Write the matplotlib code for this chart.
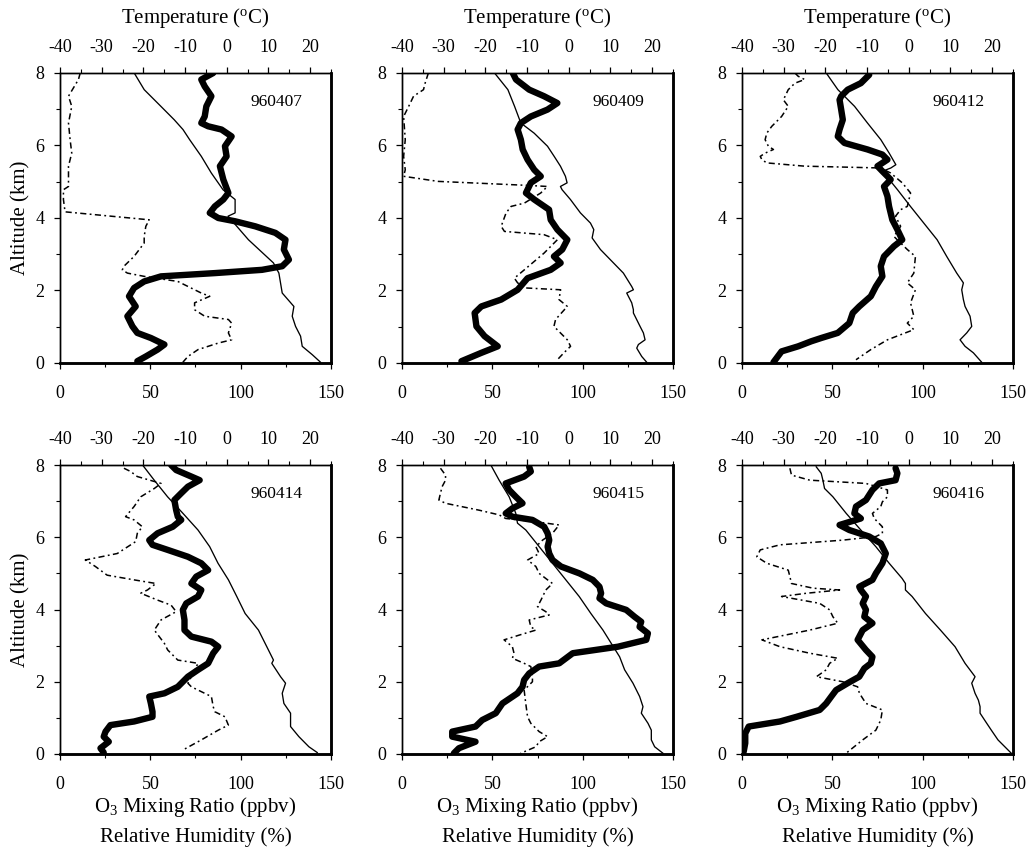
import matplotlib
matplotlib.use("Agg")
import matplotlib.pyplot as plt
from matplotlib.ticker import MultipleLocator, FixedLocator

plt.rcParams['font.family'] = ['Liberation Serif', 'DejaVu Serif']
plt.rcParams['mathtext.fontset'] = 'custom'
plt.rcParams['mathtext.rm'] = 'Liberation Serif'
plt.rcParams['axes.unicode_minus'] = False

dates = ["960407", "960409", "960412", "960414", "960415", "960416"]

# ---------------- 960407 ----------------
t1_alt = [8.0, 7.54, 7.08, 6.71, 6.44, 6.16, 5.70, 5.24, 4.78, 4.51, 4.14, 4.05, 3.40, 2.76, 2.48, 1.93, 1.56, 1.29, 1.01, 0.74, 0.46, 0.23, 0.02]
t1_val = [-22.2, -19.8, -15.8, -12.6, -10.5, -8.9, -6.1, -3.7, -0.9, 2.0, 2.0, 0.3, 5.2, 11.2, 12.5, 13.3, 16.1, 15.7, 16.5, 17.7, 18.1, 20.5, 22.5]
o1_alt = [8.0, 7.82, 7.63, 7.36, 7.08, 6.80, 6.62, 6.53, 6.44, 6.25, 5.98, 5.70, 5.43, 5.06, 4.69, 4.51, 4.32, 4.14, 4.00, 3.91, 3.77, 3.59, 3.40, 3.13, 2.85, 2.67, 2.57, 2.48, 2.39, 2.25, 2.07, 1.84, 1.56, 1.29, 1.01, 0.83, 0.69, 0.51, 0.37, 0.18, 0.05]
o1_val = [84.8, 78.2, 80.1, 83.8, 81.0, 80.1, 78.2, 82.0, 89.4, 95.0, 91.3, 92.2, 88.5, 90.4, 93.2, 90.4, 85.7, 82.9, 87.6, 96.9, 108.1, 119.2, 124.8, 123.9, 126.7, 123.0, 111.8, 85.7, 55.9, 46.6, 41.0, 38.2, 41.9, 37.3, 40.1, 42.8, 50.3, 57.8, 54.0, 47.5, 42.8]
r1_alt = [8.0, 7.82, 7.36, 7.08, 6.62, 6.16, 5.79, 5.43, 4.87, 4.78, 4.51, 4.17, 3.95, 3.77, 3.49, 3.31, 2.94, 2.67, 2.57, 2.48, 2.39, 2.25, 1.93, 1.84, 1.66, 1.47, 1.29, 1.20, 1.10, 0.83, 0.64, 0.55, 0.37, 0.18, 0.02]
r1_val = [11.2, 10.2, 4.7, 6.5, 4.7, 5.6, 6.5, 4.7, 4.7, 1.9, 1.9, 2.8, 49.4, 47.5, 46.6, 46.6, 41.0, 35.4, 34.5, 37.3, 46.6, 65.2, 78.2, 82.9, 74.5, 74.5, 80.1, 93.2, 95.0, 93.2, 95.0, 87.6, 76.4, 70.8, 68.0]

# ---------------- 960409 ----------------
t2_alt = [8.0, 7.54, 7.08, 6.62, 6.34, 5.98, 5.70, 5.43, 5.15, 4.97, 4.87, 4.78, 4.51, 4.14, 3.86, 3.68, 3.45, 3.13, 2.48, 2.11, 2.02, 1.93, 1.66, 1.47, 1.38, 1.01, 0.83, 0.64, 0.51, 0.41, 0.18, 0.02]
t2_val = [-17.8, -14.6, -13.0, -11.5, -8.3, -5.1, -3.5, -2.0, -0.8, -0.4, -2.0, -1.6, 0.4, 2.8, 5.2, 6.0, 5.6, 7.6, 13.1, 15.1, 15.5, 13.9, 15.1, 15.5, 15.5, 17.1, 17.9, 18.3, 16.7, 16.3, 17.5, 18.7]
o2_alt = [8.0, 7.82, 7.54, 7.36, 7.17, 6.99, 6.80, 6.62, 6.44, 6.16, 5.89, 5.61, 5.33, 5.15, 4.97, 4.69, 4.51, 4.23, 3.95, 3.68, 3.40, 3.13, 2.94, 2.76, 2.57, 2.34, 2.02, 1.75, 1.56, 1.38, 1.01, 0.74, 0.46, 0.28, 0.05]
o2_val = [61.3, 63.1, 70.4, 78.6, 86.0, 80.5, 71.3, 65.8, 64.0, 65.8, 66.8, 69.5, 73.2, 76.8, 71.3, 68.6, 73.2, 81.4, 82.3, 86.0, 91.5, 88.7, 84.1, 87.8, 82.3, 69.5, 64.0, 54.9, 43.9, 40.2, 41.2, 45.7, 53.0, 43.9, 32.9]
r2_alt = [8.0, 7.72, 7.54, 7.36, 7.08, 6.80, 6.16, 5.70, 5.33, 5.15, 5.01, 4.90, 4.87, 4.69, 4.41, 4.32, 4.14, 3.77, 3.63, 3.54, 3.40, 3.03, 2.57, 2.34, 2.21, 2.07, 2.02, 1.75, 1.56, 1.20, 1.01, 0.64, 0.46, 0.28, 0.09]
r2_val = [14.6, 12.8, 11.9, 6.4, 3.7, 0.9, 1.8, 0.9, 1.8, 0.9, 20.0, 69.5, 80.5, 76.8, 67.7, 60.4, 57.6, 54.9, 56.7, 78.6, 86.0, 78.6, 67.7, 62.2, 64.0, 68.6, 87.8, 86.9, 91.5, 85.0, 84.1, 91.5, 93.3, 89.6, 86.0]

# ---------------- 960412 ----------------
t3_alt = [8.0, 7.54, 7.08, 6.62, 6.16, 5.79, 5.47, 5.38, 5.29, 4.78, 4.32, 3.86, 3.40, 2.94, 2.48, 2.21, 2.02, 1.75, 1.56, 1.29, 1.01, 0.83, 0.64, 0.46, 0.28, 0.02]
t3_val = [-19.8, -17.0, -13.0, -9.9, -6.7, -4.7, -3.1, -4.3, -6.3, -2.7, 0.4, 3.6, 6.8, 9.1, 11.5, 13.1, 12.7, 13.1, 13.5, 14.7, 15.1, 13.9, 12.3, 13.5, 15.5, 17.5]
o3_alt = [7.95, 7.72, 7.54, 7.36, 7.26, 6.99, 6.71, 6.44, 6.25, 6.07, 5.89, 5.75, 5.61, 5.43, 5.29, 5.06, 4.87, 4.60, 4.32, 3.95, 3.68, 3.40, 3.22, 2.94, 2.67, 2.39, 2.11, 1.84, 1.56, 1.38, 1.10, 0.83, 0.69, 0.60, 0.46, 0.32, 0.14, 0.02]
o3_val = [70.4, 65.8, 58.5, 54.9, 54.0, 54.9, 55.8, 54.0, 53.0, 56.7, 69.5, 77.7, 80.5, 75.0, 77.7, 82.3, 78.6, 80.5, 81.4, 83.2, 86.0, 88.7, 84.1, 78.6, 76.8, 77.7, 74.1, 71.3, 64.9, 61.3, 59.4, 53.0, 43.9, 38.4, 31.1, 21.9, 19.2, 17.4]
r3_alt = [8.0, 7.91, 7.82, 7.72, 7.54, 7.26, 7.08, 6.80, 6.53, 6.34, 6.16, 5.98, 5.89, 5.79, 5.70, 5.61, 5.52, 5.43, 5.38, 5.24, 4.97, 4.69, 4.32, 4.23, 4.05, 3.77, 3.49, 3.31, 3.13, 2.94, 2.48, 2.21, 2.02, 1.66, 1.29, 1.10, 0.92, 0.64, 0.37, 0.09]
r3_val = [29.3, 31.1, 34.7, 29.3, 25.6, 22.9, 25.6, 21.9, 16.5, 13.7, 12.8, 14.6, 17.4, 12.8, 10.1, 11.0, 13.7, 34.7, 76.8, 82.3, 88.7, 93.3, 91.5, 87.8, 85.0, 87.8, 84.1, 87.8, 91.5, 96.0, 95.1, 91.5, 96.0, 93.3, 95.1, 91.5, 95.1, 80.5, 71.3, 63.1]

# ---------------- 960414 ----------------
t4_alt = [8.0, 7.58, 7.12, 6.66, 6.20, 5.74, 5.28, 4.82, 4.36, 3.89, 3.43, 2.97, 2.60, 2.51, 2.14, 1.96, 1.68, 1.40, 1.13, 0.76, 0.48, 0.20, 0.04]
t4_val = [-20.2, -17.4, -14.2, -10.5, -6.9, -4.1, -2.1, 0.4, 2.4, 4.4, 7.6, 9.6, 11.2, 10.8, 12.9, 14.1, 13.3, 13.7, 15.3, 15.3, 17.3, 19.7, 21.7]
o4_alt = [8.0, 7.86, 7.68, 7.58, 7.40, 7.22, 7.03, 6.75, 6.57, 6.48, 6.29, 6.11, 5.92, 5.79, 5.65, 5.46, 5.28, 5.09, 4.91, 4.72, 4.54, 4.36, 4.17, 3.99, 3.71, 3.43, 3.25, 3.11, 2.97, 2.79, 2.51, 2.33, 2.14, 1.86, 1.68, 1.59, 1.40, 1.17, 1.03, 0.90, 0.80, 0.62, 0.48, 0.34, 0.16, 0.04]
o4_val = [61.5, 64.3, 72.7, 77.3, 70.8, 67.1, 63.3, 64.3, 65.2, 67.1, 62.4, 54.0, 49.4, 51.2, 59.6, 70.8, 78.2, 82.0, 75.4, 72.7, 78.2, 76.4, 69.9, 68.0, 68.9, 68.9, 72.7, 83.8, 87.6, 84.8, 82.0, 76.4, 70.8, 65.2, 57.8, 49.4, 50.3, 51.2, 51.2, 41.0, 27.9, 25.2, 24.2, 27.0, 22.4, 24.2]
r4_alt = [7.91, 7.82, 7.68, 7.49, 7.35, 7.12, 6.85, 6.57, 6.48, 6.29, 6.11, 5.88, 5.55, 5.37, 5.19, 4.95, 4.82, 4.72, 4.54, 4.45, 4.26, 4.12, 3.94, 3.71, 3.43, 3.06, 2.88, 2.60, 2.51, 2.33, 2.14, 1.96, 1.86, 1.59, 1.31, 1.17, 1.03, 0.80, 0.66, 0.39, 0.11]
r4_val = [35.4, 39.1, 42.8, 55.9, 52.2, 44.7, 41.0, 36.3, 41.0, 45.6, 42.8, 41.9, 31.7, 14.0, 19.6, 26.1, 41.0, 53.1, 48.4, 44.7, 54.0, 61.5, 64.3, 55.9, 52.2, 57.8, 59.6, 65.2, 76.4, 74.5, 72.7, 70.8, 72.7, 83.8, 84.8, 85.7, 91.3, 93.2, 87.6, 78.2, 68.0]

# ---------------- 960415 ----------------
t5_alt = [8.0, 7.58, 7.12, 6.66, 6.39, 6.20, 5.74, 5.28, 4.82, 4.36, 3.89, 3.43, 3.06, 2.69, 2.33, 1.96, 1.59, 1.31, 1.13, 0.85, 0.66, 0.39, 0.20, 0.02]
t5_val = [-18.7, -16.7, -14.3, -12.7, -12.3, -10.3, -7.1, -3.9, -0.7, 2.5, 5.3, 8.2, 10.2, 12.2, 13.4, 15.4, 17.0, 17.8, 17.4, 19.0, 19.8, 19.8, 20.6, 22.6]
o5_alt = [7.95, 7.82, 7.68, 7.49, 7.31, 7.12, 6.94, 6.80, 6.66, 6.57, 6.48, 6.29, 6.11, 5.92, 5.74, 5.55, 5.37, 5.19, 5.00, 4.82, 4.63, 4.45, 4.31, 4.17, 3.99, 3.80, 3.66, 3.52, 3.34, 3.16, 2.97, 2.79, 2.51, 2.42, 2.23, 2.05, 1.86, 1.68, 1.40, 1.13, 0.94, 0.76, 0.62, 0.48, 0.34, 0.16, 0.02]
o5_val = [70.4, 71.3, 67.6, 57.4, 59.3, 63.0, 66.7, 61.1, 57.4, 61.1, 72.2, 78.7, 80.6, 81.5, 80.6, 81.5, 83.3, 88.0, 98.2, 105.6, 109.3, 110.2, 109.3, 113.0, 124.1, 128.7, 132.4, 131.5, 136.1, 135.2, 119.5, 94.5, 87.0, 75.9, 70.4, 67.6, 66.7, 63.9, 55.6, 51.9, 44.4, 40.7, 27.8, 27.8, 40.7, 31.5, 28.7]
r5_alt = [7.91, 7.72, 7.58, 7.40, 7.22, 7.03, 6.94, 6.75, 6.62, 6.52, 6.43, 6.34, 6.11, 5.92, 5.74, 5.55, 5.37, 5.19, 5.00, 4.82, 4.72, 4.54, 4.26, 4.08, 3.94, 3.85, 3.71, 3.52, 3.43, 3.29, 3.16, 2.97, 2.79, 2.65, 2.51, 2.42, 2.14, 2.00, 1.77, 1.40, 1.03, 0.85, 0.62, 0.48, 0.34, 0.20, 0.02]
r5_val = [21.3, 24.1, 24.1, 22.2, 21.3, 20.4, 24.1, 42.6, 53.7, 57.4, 74.1, 87.0, 83.3, 77.8, 74.1, 75.9, 69.5, 74.1, 75.9, 80.6, 83.3, 79.6, 76.9, 75.0, 79.6, 81.5, 70.4, 71.3, 74.1, 64.8, 56.5, 61.1, 62.0, 61.1, 67.6, 71.3, 72.2, 72.2, 67.6, 68.5, 69.5, 71.3, 75.9, 80.6, 75.9, 74.1, 65.7]

# ---------------- 960416 ----------------
t6_alt = [7.95, 7.77, 7.58, 7.35, 7.12, 6.66, 6.20, 5.74, 5.28, 4.86, 4.72, 4.54, 4.36, 3.89, 3.43, 2.97, 2.51, 2.14, 1.96, 1.68, 1.49, 1.31, 1.13, 0.85, 0.66, 0.39, 0.02]
t6_val = [-22.2, -21.0, -20.6, -20.2, -18.2, -15.0, -11.5, -7.9, -4.7, -1.6, -0.8, -0.8, 0.8, 4.0, 7.6, 11.1, 13.5, 15.9, 15.1, 15.9, 16.7, 17.1, 17.1, 18.7, 19.8, 21.4, 24.6]
o6_alt = [7.91, 7.77, 7.58, 7.49, 7.31, 7.03, 6.85, 6.66, 6.52, 6.34, 6.20, 6.02, 5.83, 5.55, 5.28, 5.00, 4.82, 4.63, 4.54, 4.36, 4.17, 3.99, 3.80, 3.62, 3.43, 3.16, 2.88, 2.69, 2.51, 2.37, 2.14, 1.96, 1.77, 1.59, 1.40, 1.22, 1.03, 0.90, 0.76, 0.57, 0.30, 0.06]
o6_val = [85.0, 86.0, 85.0, 75.9, 72.2, 68.6, 63.1, 62.2, 65.8, 54.0, 59.4, 70.4, 76.8, 79.6, 77.7, 74.1, 72.2, 64.9, 65.8, 68.6, 66.8, 68.6, 67.7, 72.2, 66.8, 64.0, 68.6, 72.2, 71.3, 67.7, 64.9, 58.5, 52.1, 49.4, 46.6, 43.0, 30.2, 21.0, 3.7, 1.8, 1.8, 0.9]
r6_alt = [7.91, 7.72, 7.58, 7.49, 7.31, 7.12, 6.98, 6.85, 6.66, 6.52, 6.29, 6.11, 6.02, 5.92, 5.79, 5.65, 5.46, 5.28, 5.09, 4.91, 4.72, 4.59, 4.54, 4.45, 4.36, 4.17, 3.99, 3.80, 3.62, 3.43, 3.16, 2.97, 2.79, 2.65, 2.51, 2.33, 2.14, 2.00, 1.86, 1.68, 1.40, 1.22, 0.94, 0.66, 0.39, 0.02]
r6_val = [26.5, 27.4, 37.5, 68.6, 80.5, 80.5, 77.7, 76.8, 72.2, 73.2, 77.7, 77.7, 74.1, 55.8, 21.0, 10.1, 8.2, 13.7, 25.6, 26.5, 27.4, 39.3, 54.0, 35.7, 21.9, 43.0, 48.5, 50.3, 53.0, 37.5, 11.0, 21.0, 37.5, 53.0, 48.5, 46.6, 41.2, 55.8, 64.0, 65.0, 68.6, 77.7, 76.8, 74.1, 66.8, 57.6]

temps = [(t1_alt, t1_val), (t2_alt, t2_val), (t3_alt, t3_val),
         (t4_alt, t4_val), (t5_alt, t5_val), (t6_alt, t6_val)]
ozone = [(o1_alt, o1_val), (o2_alt, o2_val), (o3_alt, o3_val),
         (o4_alt, o4_val), (o5_alt, o5_val), (o6_alt, o6_val)]
humid = [(r1_alt, r1_val), (r2_alt, r2_val), (r3_alt, r3_val),
         (r4_alt, r4_val), (r5_alt, r5_val), (r6_alt, r6_val)]

bottom_ticks = [0, 50, 100, 150]
top_ticks = [-40, -30, -20, -10, 0, 10, 20]
alt_ticks = [0, 2, 4, 6, 8]

W, H = 1035, 851
fig = plt.figure(figsize=(W / 100, H / 100), dpi=100)

col_left = [60, 402, 742]
col_w = 271
row_top = [73, 465]
row_h = [290, 289]

TICK_FS = 13
LAB_FS = 15

for i in range(6):
    r, c = divmod(i, 3)
    left = col_left[c] / W
    bottom = 1 - (row_top[r] + row_h[r]) / H
    ax = fig.add_axes([left, bottom, col_w / W, row_h[r] / H])
    tx = ax.twiny()
    ax.set_zorder(tx.get_zorder() + 1)
    ax.patch.set_visible(False)

    ta, tv = temps[i]
    tx.plot(tv, ta, color='black', lw=0.95, solid_joinstyle='round')
    ra, rv = humid[i]
    ax.plot(rv, ra, color='black', lw=1.1, dashes=(4, 2.2, 1.2, 2.2))
    oa, ov = ozone[i]
    ax.plot(ov, oa, color='black', lw=4.6, solid_capstyle='round', solid_joinstyle='round')

    ax.set_xlim(0, 150)
    ax.set_ylim(0, 8)
    tx.set_xlim(-40, 25)

    ax.xaxis.set_major_locator(FixedLocator(bottom_ticks))
    ax.xaxis.set_minor_locator(MultipleLocator(25))
    ax.yaxis.set_major_locator(FixedLocator(alt_ticks))
    ax.yaxis.set_minor_locator(MultipleLocator(1))
    tx.xaxis.set_major_locator(FixedLocator(top_ticks))
    tx.xaxis.set_minor_locator(MultipleLocator(5))

    ax.tick_params(axis='both', which='major', direction='out', length=4, width=0.9,
                   labelsize=TICK_FS)
    ax.tick_params(axis='both', which='minor', direction='out', length=3, width=0.8)
    ax.tick_params(axis='x', which='both', pad=12)
    ax.tick_params(axis='y', which='major', pad=7)
    ax.tick_params(axis='y', which='both', right=False)
    tx.tick_params(axis='x', which='major', direction='out', length=4, width=0.9,
                   labelsize=TICK_FS, pad=8)
    tx.tick_params(axis='x', which='minor', direction='out', length=3, width=0.8)

    for a in (ax, tx):
        a.spines['left'].set_linewidth(1.0)
        a.spines['top'].set_linewidth(1.0)
        a.spines['right'].set_linewidth(1.8)
        a.spines['bottom'].set_linewidth(1.8)

    ax.text(120, 7.2, dates[i], ha='center', va='center', fontsize=12.5)

    if c == 0:
        ax.set_ylabel('Altitude (km)', fontsize=LAB_FS, labelpad=4)
    if r == 0:
        tx.set_xlabel(r'Temperature ($\mathregular{^o}$C)', fontsize=LAB_FS, labelpad=12)
    if r == 1:
        ax.set_xlabel('O$\\mathregular{_3}$ Mixing Ratio (ppbv)\nRelative Humidity (%)',
                      fontsize=LAB_FS, labelpad=1.5, linespacing=1.55)

fig.savefig('out.png', dpi=100)
